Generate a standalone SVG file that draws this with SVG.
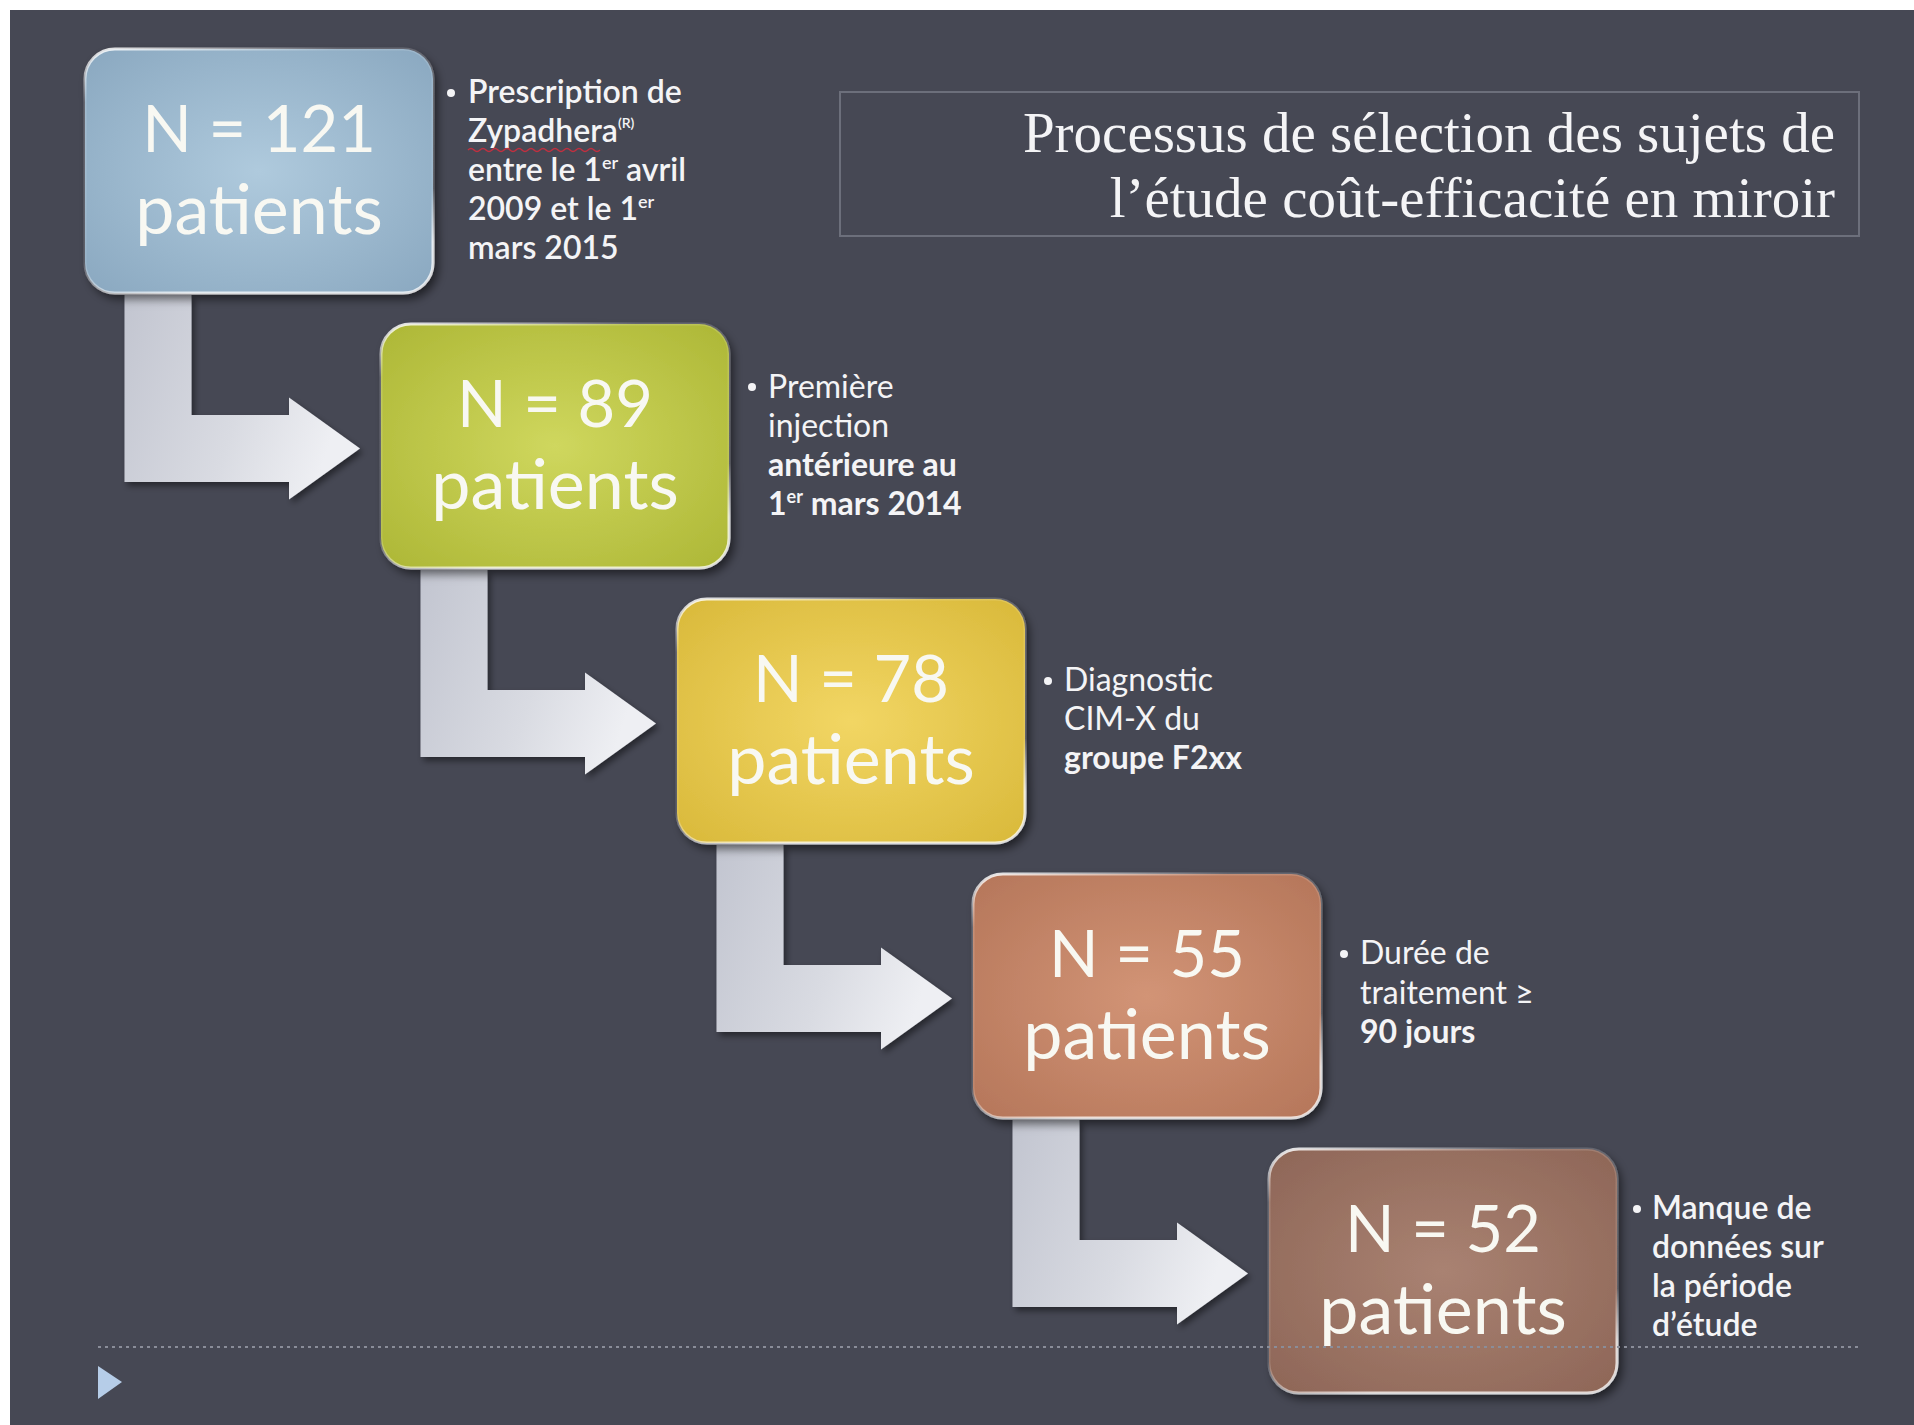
<svg xmlns="http://www.w3.org/2000/svg" width="1914" height="1425" viewBox="0 0 1914 1425">
<defs>
<style>
.num{font-family:Lato,"Open Sans","Liberation Sans",sans-serif;font-size:65px;fill:#f8f8f2;text-anchor:middle}
.pat{font-family:Lato,"Open Sans","Liberation Sans",sans-serif;font-size:70px;fill:#f8f8f2;text-anchor:middle}
.bl{font-family:Lato,"Open Sans","Liberation Sans",sans-serif;font-size:32px;fill:#f4f4f6}
.b{font-weight:bold}
.sb{font-weight:600}
.sup{font-size:18px}
.reg{font-size:14px}
.title{font-family:"Liberation Serif","DejaVu Serif",serif;font-size:57px;fill:#f4f4f6;text-anchor:end}
.arrow{fill:url(#ag);filter:url(#ash)}
.box{stroke:url(#rim);stroke-width:3;filter:url(#sh)}
</style>
<filter id="sh" x="-10%" y="-10%" width="125%" height="125%">
<feDropShadow dx="4" dy="5" stdDeviation="5" flood-color="#000" flood-opacity="0.55"/>
</filter>
<filter id="ash" x="-10%" y="-10%" width="125%" height="125%">
<feDropShadow dx="3" dy="4" stdDeviation="3" flood-color="#000" flood-opacity="0.45"/>
</filter>
<linearGradient id="ag" x1="0" y1="0" x2="1" y2="0.3">
<stop offset="0" stop-color="#c2c5d0"/>
<stop offset="0.6" stop-color="#d9dbe2"/>
<stop offset="1" stop-color="#eeeff3"/>
</linearGradient>
<linearGradient id="rim" x1="0" y1="0" x2="0.3" y2="1">
<stop offset="0" stop-color="#ffffff" stop-opacity="0.9"/>
<stop offset="0.2" stop-color="#ffffff" stop-opacity="0.15"/>
<stop offset="0.8" stop-color="#ffffff" stop-opacity="0.1"/>
<stop offset="1" stop-color="#ffffff" stop-opacity="0.75"/>
</linearGradient>
<radialGradient id="g1" cx="0.5" cy="0.5" r="0.7"><stop offset="0" stop-color="#afcadd"/><stop offset="1" stop-color="#8aa8c0"/></radialGradient>
<radialGradient id="g2" cx="0.5" cy="0.5" r="0.7"><stop offset="0" stop-color="#cfd75e"/><stop offset="1" stop-color="#adb736"/></radialGradient>
<radialGradient id="g3" cx="0.5" cy="0.5" r="0.7"><stop offset="0" stop-color="#f2d664"/><stop offset="1" stop-color="#d9b93a"/></radialGradient>
<radialGradient id="g4" cx="0.5" cy="0.5" r="0.7"><stop offset="0" stop-color="#d29476"/><stop offset="1" stop-color="#b5765a"/></radialGradient>
<radialGradient id="g5" cx="0.5" cy="0.5" r="0.7"><stop offset="0" stop-color="#a98272"/><stop offset="1" stop-color="#8e6657"/></radialGradient>
</defs>
<rect x="0" y="0" width="1914" height="1425" fill="#ffffff"/>
<rect x="10" y="10" width="1904" height="1415" fill="#464854"/>

<g id="title">
<rect x="840" y="92" width="1019" height="144" fill="none" stroke="#6c6f7b" stroke-width="2"/>
<text class="title" x="1835" y="152">Processus de sélection des sujets de</text>
<text class="title" x="1835" y="217">l’étude coût-efficacité en miroir</text>
</g>

<g id="connectors">
<path class="arrow" d="M124.5,295 H191.5 V415 H289 V397.5 L360,448.5 L289,499.5 V482 H124.5 Z"/>
<path class="arrow" d="M420.5,570 H487.5 V690 H585 V672.5 L656,723.5 L585,774.5 V757 H420.5 Z"/>
<path class="arrow" d="M716.5,845 H783.5 V965 H881 V947.5 L952,998.5 L881,1049.5 V1032 H716.5 Z"/>
<path class="arrow" d="M1012.5,1120 H1079.5 V1240 H1177 V1222.5 L1248,1273.5 L1177,1324.5 V1307 H1012.5 Z"/>
</g>

<g id="node1">
<rect class="box" x="85" y="49" width="348" height="244" rx="30" fill="url(#g1)"/>
<text class="num" x="259" y="152">N = 121</text>
<text class="pat" x="259" y="234">patients</text>
</g>
<g id="note1">
<circle cx="451" cy="93" r="4" fill="#f4f4f6"/>
<text class="bl sb" x="468" y="103">Prescription de</text>
<text class="bl sb" x="468" y="142">Zypadhera<tspan class="reg" dy="-14">(R)</tspan></text>
<path d="M468,150 q3,-3 6,0 t6,0 t6,0 t6,0 t6,0 t6,0 t6,0 t6,0 t6,0 t6,0 t6,0 t6,0 t6,0 t6,0 t6,0 t6,0 t6,0 t6,0 t6,0 t6,0 t6,0 t6,0" fill="none" stroke="#c03040" stroke-width="1.5"/>
<text class="bl sb" x="468" y="181">entre le 1<tspan class="sup" dy="-12">er</tspan><tspan dy="12"> avril</tspan></text>
<text class="bl sb" x="468" y="220">2009 et le 1<tspan class="sup" dy="-12">er</tspan></text>
<text class="bl sb" x="468" y="259">mars 2015</text>
</g>

<g id="node2">
<rect class="box" x="381" y="324" width="348" height="244" rx="30" fill="url(#g2)"/>
<text class="num" x="555" y="427" fill="#f6f8e6">N = 89</text>
<text class="pat" x="555" y="509">patients</text>
</g>
<g id="note2">
<circle cx="752" cy="387" r="4" fill="#f4f4f6"/>
<text class="bl" x="768" y="398">Première</text>
<text class="bl" x="768" y="437">injection</text>
<text class="bl b" x="768" y="476">antérieure au</text>
<text class="bl b" x="768" y="515">1<tspan class="sup" dy="-12">er</tspan><tspan dy="12"> mars 2014</tspan></text>
</g>

<g id="node3">
<rect class="box" x="677" y="599" width="348" height="244" rx="30" fill="url(#g3)"/>
<text class="num" x="851" y="702">N = 78</text>
<text class="pat" x="851" y="784">patients</text>
</g>
<g id="note3">
<circle cx="1048" cy="681" r="4" fill="#f4f4f6"/>
<text class="bl" x="1064" y="691">Diagnostic</text>
<text class="bl" x="1064" y="730">CIM-X du</text>
<text class="bl b" x="1064" y="769">groupe F2xx</text>
</g>

<g id="node4">
<rect class="box" x="973" y="874" width="348" height="244" rx="30" fill="url(#g4)"/>
<text class="num" x="1147" y="977">N = 55</text>
<text class="pat" x="1147" y="1059">patients</text>
</g>
<g id="note4">
<circle cx="1344" cy="954" r="4" fill="#f4f4f6"/>
<text class="bl" x="1360" y="964">Durée de</text>
<text class="bl" x="1360" y="1004">traitement  ≥</text>
<text class="bl b" x="1360" y="1043">90 jours</text>
</g>

<g id="node5">
<rect class="box" x="1269" y="1149" width="348" height="244" rx="30" fill="url(#g5)"/>
<text class="num" x="1443" y="1252">N = 52</text>
<text class="pat" x="1443" y="1334">patients</text>
</g>
<g id="note5">
<circle cx="1637" cy="1209" r="4" fill="#f4f4f6"/>
<text class="bl sb" x="1652" y="1219">Manque de</text>
<text class="bl sb" x="1652" y="1258">données sur</text>
<text class="bl sb" x="1652" y="1297">la période</text>
<text class="bl sb" x="1652" y="1336">d’étude</text>
</g>

<g id="footer">
<line x1="98" y1="1347" x2="1859" y2="1347" stroke="#8a8d99" stroke-width="2" stroke-dasharray="3 4"/>
<polygon points="98,1366 98,1399 122,1382" fill="#b6cde8"/>
</g>
</svg>
